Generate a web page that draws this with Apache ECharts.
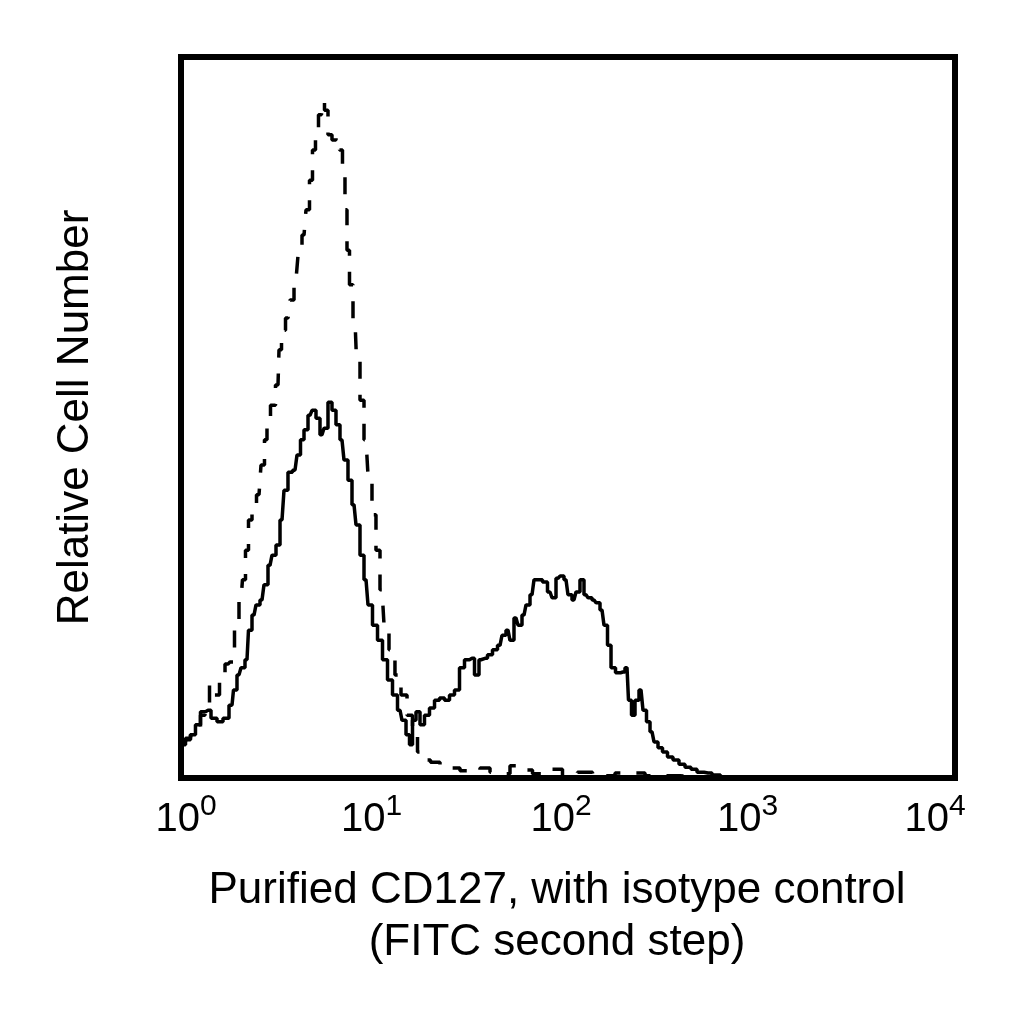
<!DOCTYPE html>
<html>
<head>
<meta charset="utf-8">
<title>Purified CD127, with isotype control</title>
<script src="https://cdn.jsdelivr.net/npm/echarts@6/dist/echarts.min.js"></script>
<style>
  html, body { margin: 0; padding: 0; background: #fff; }
  #chart { width: 1024px; height: 1024px; }
</style>
</head>
<body>
<div id="chart"></div>
<script>
// 同型对照 (虚线) - 荧光强度 / 相对细胞数
var isoX = [1.024, 1.087, 1.153, 1.224, 1.299, 1.363, 1.446, 1.535, 1.629, 1.750,
  1.835, 1.947, 2.042, 2.116, 2.193, 2.273, 2.384, 2.530, 2.653, 2.749,
  2.816, 2.988, 3.172, 3.248, 3.367, 3.573, 3.747, 3.930, 4.121, 4.322,
  4.532, 4.697, 4.867, 5.044, 5.228, 5.418, 5.615, 5.888, 6.175, 6.476,
  6.711, 6.955, 7.123, 7.295, 7.560, 7.929, 8.217, 8.618, 9.039, 9.478,
  9.94, 10.42, 10.94, 11.47, 12.31, 13.22, 14.21, 15.26, 16.19, 17.19,
  18.46, 20.54, 23.14, 26.06, 29.36, 33.06, 37.25, 41.95, 47.25, 53.22,
  59.95, 71.66, 85.67, 102.4, 122.4, 146.4, 209.2, 298.9, 481.2, 872.2, 10000];
var isoY = [5.0, 5.5, 6.0, 6.9, 8.7, 10.1, 12.9, 11.5, 13.6, 15.8,
  16.1, 21.2, 24.7, 27.5, 31.6, 35.8, 37.2, 39.3, 43.4, 46.9,
  49.7, 51.7, 54.5, 59.4, 62.1, 63.8, 66.3, 69.1, 72.5, 75.3,
  78.8, 82.9, 87.1, 89.2, 92.0, 93.8, 92.6, 89.2, 88.5, 88.8,
  87.1, 83.6, 78.8, 73.2, 68.4, 63.5, 58.0, 52.4, 46.9, 42.0,
  36.5, 31.6, 26.1, 21.2, 17.8, 14.3, 11.5, 8.7, 6.0, 3.6,
  2.5, 2.2, 1.8, 1.4, 1.0, 0.8, 1.4, 0.8, 0.6, 1.7,
  1.1, 0.6, 1.2, 0.4, 0.8, 0.3, 0.7, 0.3, 0.1, 0, 0];

// CD127 (实线)
var cd127X = [1.024, 1.087, 1.153, 1.224, 1.299, 1.379, 1.481, 1.591, 1.708, 1.835,
  1.901, 1.994, 2.091, 2.193, 2.273, 2.384, 2.500, 2.622, 2.749, 2.884,
  3.024, 3.172, 3.327, 3.487, 3.659, 3.883, 4.072, 4.220, 4.426, 4.642,
  4.867, 5.105, 5.354, 5.615, 5.888, 6.175, 6.476, 6.792, 7.123, 7.470,
  7.837, 8.217, 8.618, 9.039, 9.478, 10.06, 10.68, 11.33, 12.03, 12.76,
  13.55, 14.21, 14.90, 15.44, 16.00, 16.78, 17.60, 18.67, 19.83, 21.04,
  22.33, 23.70, 25.15, 26.69, 28.33, 30.06, 31.91, 33.86, 35.52, 37.25,
  39.53, 41.95, 44.53, 46.69, 48.97, 51.35, 53.86, 56.48, 59.25, 62.13,
  65.16, 68.33, 71.66, 76.04, 80.72, 84.65, 88.79, 93.11, 97.65, 102.4,
  107.4, 112.6, 118.1, 123.9, 129.9, 136.3, 142.9, 149.9, 157.2, 162.9,
  170.9, 181.3, 192.4, 201.8, 209.1, 216.8, 227.3, 238.4, 250.0, 259.1,
  271.8, 285.0, 298.9, 317.2, 336.6, 361.5, 388.2, 417.1, 447.9, 481.1,
  529.0, 582.1, 647.9, 774.3, 10000];
var cd127Y = [4.6, 5.3, 6.0, 7.4, 9.2, 9.4, 8.3, 7.8, 8.3, 10.1,
  12.2, 14.3, 15.3, 16.4, 20.5, 22.6, 24.0, 24.7, 26.8, 29.5,
  30.9, 32.3, 35.8, 39.9, 42.4, 42.7, 44.8, 46.9, 48.3, 50.3,
  51.0, 49.9, 47.6, 48.5, 52.1, 51.0, 49.0, 46.9, 44.1, 41.3,
  37.9, 35.1, 30.9, 27.5, 24.0, 21.2, 19.1, 16.4, 13.6, 11.5,
  9.4, 8.0, 6.0, 4.6, 8.0, 9.2, 7.4, 8.7, 9.7, 10.8,
  11.1, 10.8, 11.5, 12.2, 15.3, 16.4, 16.6, 14.3, 16.4, 16.6,
  17.1, 17.8, 18.4, 19.8, 20.5, 19.1, 22.2, 21.2, 22.6, 24.0,
  25.4, 27.5, 27.5, 27.2, 25.8, 25.0, 27.7, 28.0, 27.5, 25.4,
  24.7, 25.8, 27.5, 25.4, 25.0, 24.7, 24.3, 23.3, 21.2, 18.4,
  15.3, 14.6, 14.7, 15.3, 10.8, 8.7, 10.8, 12.2, 9.4, 7.8,
  6.4, 5.0, 4.2, 3.6, 2.9, 2.5, 1.9, 1.5, 1.2, 0.8,
  0.7, 0.4, 0.1, 0, 0];

// x轴刻度 (十进制幂)
var decadeTicks = [1, 10, 100, 1000, 10000];
// 每个刻度标签的水平微调
var labelShift = [5, -3, -7, -14, -20];

(function () {
  var myChart = echarts.init(document.getElementById('chart'));

  function pairs(xs, ys) {
    var out = [];
    for (var i = 0; i < xs.length; i++) out.push([xs[i], ys[i]]);
    return out;
  }

  // 每个刻度一个rich样式, 用padding实现偏移和上标
  var rich = {};
  decadeTicks.forEach(function (t, i) {
    var sh = labelShift[i];
    rich['b' + i] = {
      fontSize: 40, lineHeight: 44, verticalAlign: 'middle', color: '#000',
      fontFamily: 'Liberation Sans', padding: [0, 0, 0, sh > 0 ? sh * 2 : 0]
    };
    // 底部padding把上标抬高
    rich['s' + i] = {
      fontSize: 30, verticalAlign: 'middle', color: '#000',
      fontFamily: 'Liberation Sans', padding: [0, sh < 0 ? -sh * 2 : 0, 25, 0]
    };
  });

  var option = {
    animation: false,
    backgroundColor: '#fff',
    grid: {
      left: 181,
      right: 69,
      top: 57,
      bottom: 246,
      show: true,
      borderColor: '#000',
      borderWidth: 6
    },
    xAxis: {
      type: 'log',
      logBase: 10,
      min: 1,
      max: 10000,
      name: 'Purified CD127, with isotype control\n(FITC second step)',
      nameLocation: 'middle',
      nameGap: 87,
      nameTextStyle: {
        fontFamily: 'Liberation Sans',
        fontSize: 44,
        lineHeight: 52,
        color: '#000',
        padding: [0, 22, 0, 0]
      },
      axisLine: { show: false },
      axisTick: { show: false },
      splitLine: { show: false },
      axisLabel: {
        margin: 14,
        showMinLabel: true,
        showMaxLabel: true,
        formatter: function (v) {
          var i = decadeTicks.indexOf(Math.round(v));
          if (i < 0) return '';
          return '{b' + i + '|10}{s' + i + '|' + i + '}';
        },
        rich: rich
      }
    },
    yAxis: {
      type: 'value',
      min: 0,
      max: 100,
      name: 'Relative Cell Number',
      nameLocation: 'middle',
      nameGap: 83,
      nameTextStyle: {
        fontFamily: 'Liberation Sans',
        fontSize: 44,
        color: '#000'
      },
      axisLine: { show: false },
      axisTick: { show: false },
      axisLabel: { show: false },
      splitLine: { show: false }
    },
    series: [{
      name: 'isotype control',
      type: 'line',
      step: 'middle',
      data: pairs(isoX, isoY),
      showSymbol: false,
      symbol: 'none',
      lineStyle: { color: '#000', width: 3.5, type: [17, 16] }
    }, {
      name: 'CD127',
      type: 'line',
      step: 'middle',
      data: pairs(cd127X, cd127Y),
      showSymbol: false,
      symbol: 'none',
      lineStyle: { color: '#000', width: 3.5 }
    }]
  };
  myChart.setOption(option);
})();
</script>
</body>
</html>
